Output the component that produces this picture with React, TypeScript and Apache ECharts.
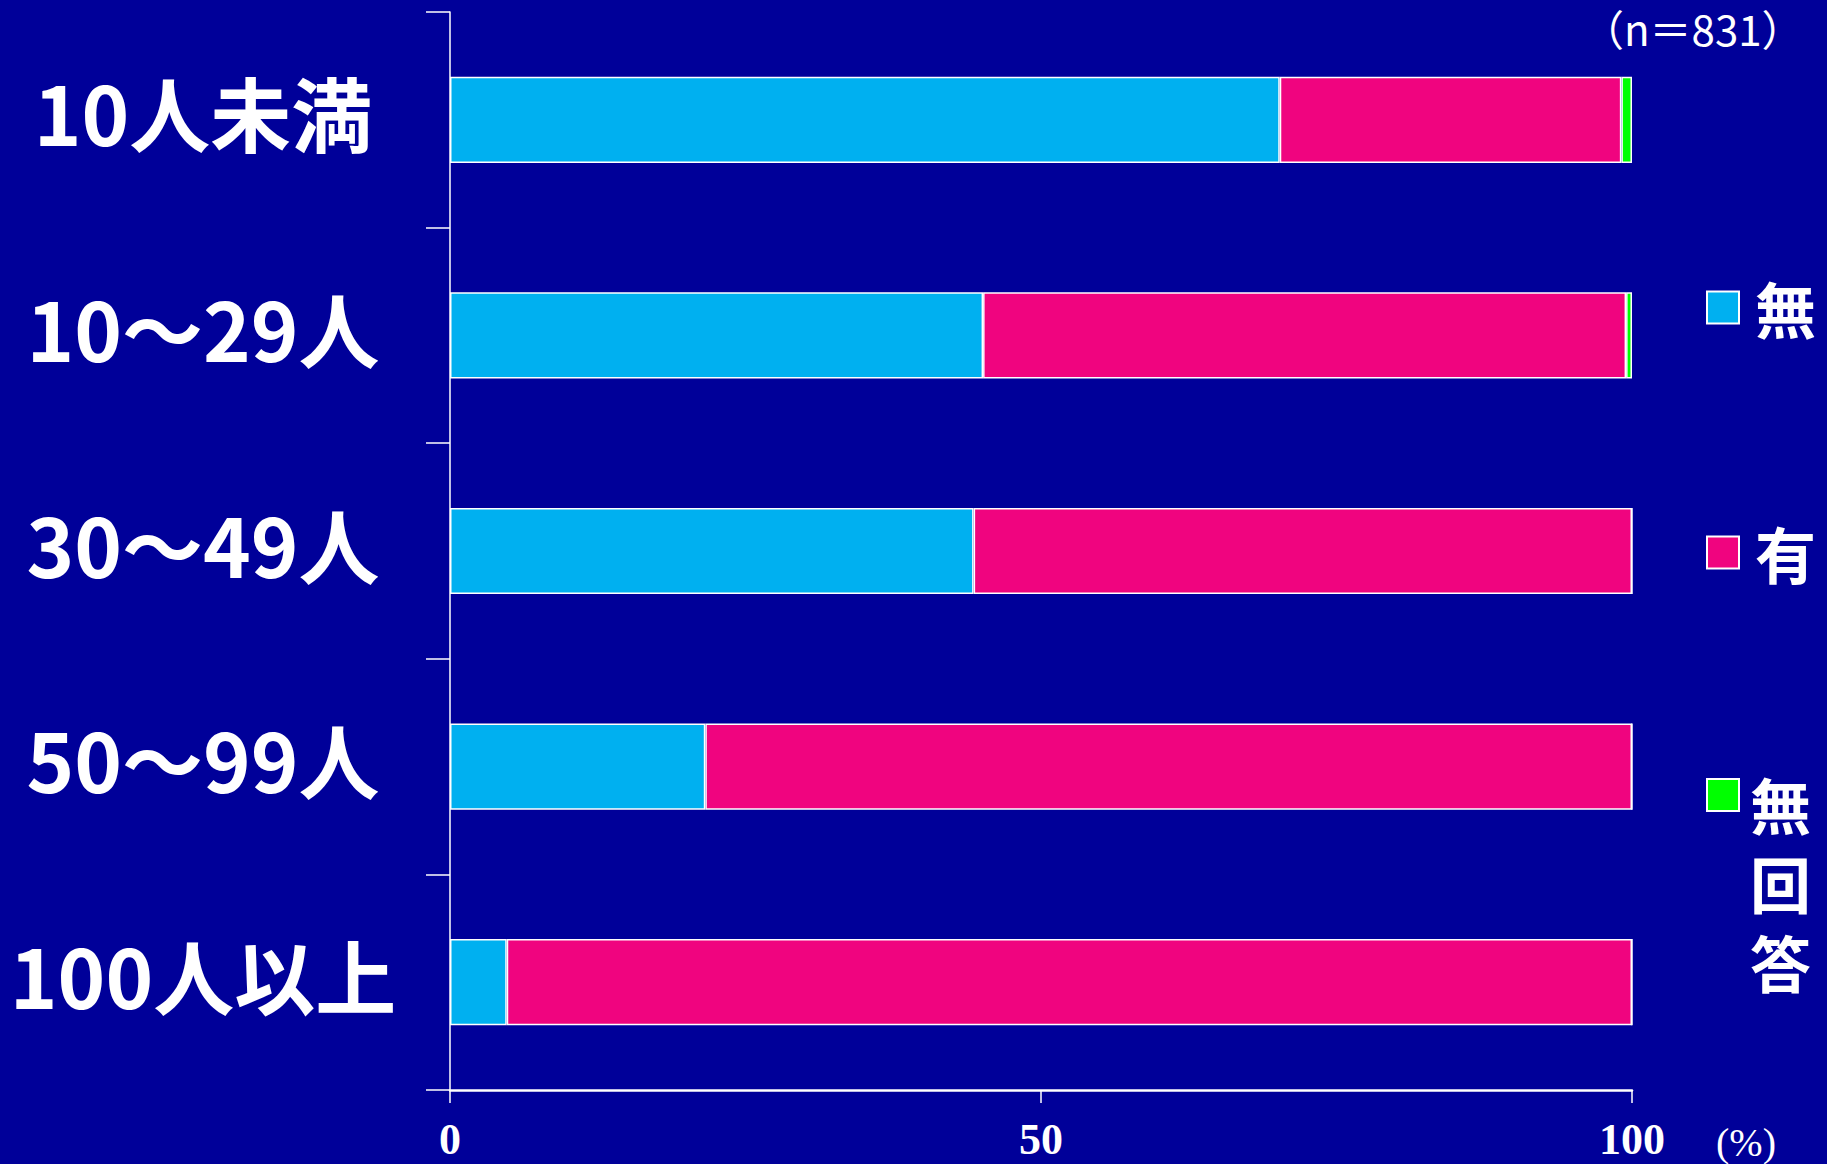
import React, { useEffect, useRef } from "react";
import * as echarts from "echarts";

const categories = ["10人未満", "10～29人", "30～49人", "50～99人", "100人以上"];
const seriesNames = ["無", "有", "無回答"];
const noValues = [70.2, 45.1, 44.3, 21.6, 4.8];
const yesValues = [28.9, 54.4, 55.7, 78.4, 95.2];
const noAnswerValues = [0.9, 0.5, 0, 0, 0];
const colors = ["#00B0F0", "#F0047F", "#00FF00"];
const sampleNote = "（n＝831）";
const unitLabel = "(%)";

export default function App() {
  const ref = useRef<HTMLDivElement>(null);
  useEffect(() => {
    document.body.style.margin = "0";
    const chart = echarts.init(ref.current!, undefined, { renderer: "svg" });
    const values = [noValues, yesValues, noAnswerValues];
    const legendText = {
      color: "#fff",
      fontSize: 61,
      fontWeight: "bold",
      fontFamily: "Noto Sans CJK JP",
    };
    chart.setOption({
      animation: false,
      backgroundColor: "#000099",
      title: {
        text: sampleNote,
        left: 1582,
        top: 6,
        padding: 0,
        textStyle: {
          color: "#fff",
          fontSize: 42,
          fontWeight: "normal",
          fontFamily: "Noto Sans CJK JP",
        },
      },
      legend: [
        {
          data: [seriesNames[0]],
          left: 1706,
          top: 277,
          padding: 0,
          itemWidth: 32,
          itemHeight: 32,
          icon: "rect",
          selectedMode: false,
          textStyle: { ...legendText, padding: [0, 0, 0, 11] },
        },
        {
          data: [seriesNames[1]],
          left: 1706,
          top: 522,
          padding: 0,
          itemWidth: 32,
          itemHeight: 32,
          icon: "rect",
          selectedMode: false,
          textStyle: { ...legendText, padding: [0, 0, 0, 11] },
        },
        {
          data: [seriesNames[2]],
          left: 1706,
          top: 763,
          padding: 0,
          itemWidth: 32,
          itemHeight: 237,
          icon: "path://M0 0 M0 15 L32 15 L32 47 L0 47 Z M0 237",
          selectedMode: false,
          formatter: (name: string) => name.split("").join("\n"),
          textStyle: { ...legendText, lineHeight: 79, padding: [0, 0, 0, 6] },
        },
      ],
      grid: { left: 450, right: 195, top: 12, bottom: 74, containLabel: false },
      xAxis: {
        type: "value",
        min: 0,
        max: 100,
        interval: 50,
        name: unitLabel,
        nameLocation: "end",
        nameGap: 84,
        nameTextStyle: {
          color: "#fff",
          fontSize: 40,
          lineHeight: 38,
          fontFamily: "Liberation Serif",
          verticalAlign: "top",
          align: "left",
          padding: [33, 0, 0, 0],
        },
        axisLine: { show: true, lineStyle: { color: "#fff", width: 2.5 } },
        axisTick: { show: true, length: 13, lineStyle: { color: "#fff", width: 1.5 } },
        splitLine: { show: false },
        axisLabel: {
          color: "#fff",
          fontSize: 44,
          lineHeight: 40,
          fontWeight: "bold",
          fontFamily: "Liberation Serif",
          margin: 29,
        },
      },
      yAxis: {
        type: "category",
        inverse: true,
        data: categories,
        axisLine: { show: true, lineStyle: { color: "#fff", width: 1.5 } },
        axisTick: { show: true, length: 24, lineStyle: { color: "#fff", width: 1.5 } },
        axisLabel: {
          color: "#fff",
          fontSize: 81,
          fontWeight: "bold",
          fontFamily: "Noto Sans CJK JP",
          align: "center",
          verticalAlign: "bottom",
          lineHeight: 18,
          margin: 247,
        },
      },
      series: seriesNames.map((name, i) => ({
        name,
        type: "bar",
        stack: "total",
        barWidth: "40%",
        data: values[i],
        itemStyle: { color: colors[i], borderColor: "#fff", borderWidth: 1.5 },
      })),
    });
    return () => chart.dispose();
  }, []);
  return (
    <div
      ref={ref}
      style={{ position: "fixed", left: 0, top: 0, width: 1827, height: 1164 }}
    />
  );
}
